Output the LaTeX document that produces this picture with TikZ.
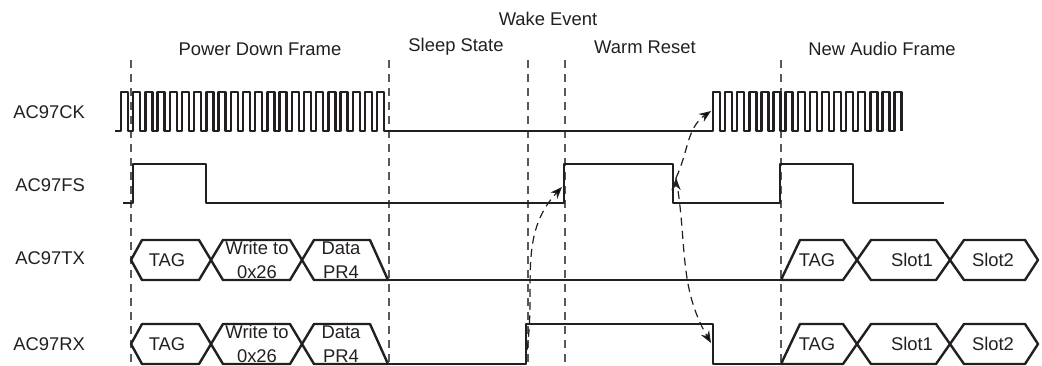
\documentclass[tikz,border=0pt]{standalone}
\usepackage{fontspec}
\setmainfont{Liberation Sans}
\usetikzlibrary{arrows.meta}
\definecolor{ink}{RGB}{35,31,32}
\definecolor{rule}{RGB}{88,89,91}

\begin{document}
\begin{tikzpicture}[x=0.75pt,y=-0.75pt,>={Stealth[length=9pt,width=7pt]},font=\fontsize{13.8}{16}\selectfont,
 sig/.style={draw=ink,line width=1.8pt,line join=round},
 divider/.style={draw=rule,line width=0.9pt,dash pattern=on 6pt off 4.5pt},
 wake/.style={->,draw=ink,line width=0.9pt,dash pattern=on 6pt off 4pt},
 txt/.style={text=ink,inner sep=0pt},
 two/.style={txt,align=center,font=\fontsize{13.8}{18}\selectfont}]
\useasboundingbox (0,0) rectangle (1042,365);
\foreach \x in {131,389,528,565,781} \draw[divider] (\x,60) -- (\x,365);
\node[txt] (wake) at (548,19) {Wake Event};
\node[txt] (pdf) at (260,49) {Power Down Frame}; \node[txt] (sleep) at (456,47) {Sleep State};
\node[txt] (warm) at (645,47) {Warm Reset}; \node[txt] (naf) at (882,49) {New Audio Frame};
\node[txt,anchor=west] (ck) at (13,112) {AC97CK}; \node[txt,anchor=west] (fs) at (15,185) {AC97FS};
\node[txt,anchor=west] (tx) at (15,258) {AC97TX}; \node[txt,anchor=west] (rx) at (13,344) {AC97RX};
\draw[sig] (115,131) -- (121,131) foreach \i in {1,...,22}{ -- ++(0,-39) -- ++(7,0) -- ++(0,39) -- ++(5.2,0)} -- (713,131)
 foreach \i in {1,...,15}{ -- ++(0,-39) -- ++(7,0) -- ++(0,39) -- ++(5.1,0)} -- ++(0,-39) -- ++(7,0) -- ++(0,39);
\draw[sig] (123,203) -| (133,164) -| (206,203) -| (564,164) -| (673,203) -| (780,164) -| (853,203) -- (944,203);
\foreach \c/\r in {260/tx,344/rx}{
 \draw[sig] (388,{\c+20}) -- (370,{\c-20}) -- (314,{\c-20}) -- (290,{\c+20}) -- (223,{\c+20}) -- (199,{\c-20}) -- (142,{\c-20}) -- (131,\c)
  -- (142,{\c+20}) -- (199,{\c+20}) -- (223,{\c-20}) -- (290,{\c-20}) -- (314,{\c+20}) -- cycle;
 \draw[sig] (781,{\c+20}) -- (800,{\c-20}) -- (843,{\c-20}) -- (871,{\c+20}) -- (936,{\c+20}) -- (964,{\c-20}) -- (1025,{\c-20}) -- (1038,\c)
  -- (1025,{\c+20}) -- (964,{\c+20}) -- (936,{\c-20}) -- (871,{\c-20}) -- (843,{\c+20}) -- cycle;
 \node[txt] (\r tag) at (167,\c) {TAG}; \node[two] (\r wr) at (257,\c) {Write to\\0x26}; \node[two] (\r data) at (341,\c) {Data\\PR4};
 \node[txt] (\r tagb) at (817,\c) {TAG}; \node[txt] (\r slota) at (912,\c) {Slot1}; \node[txt] (\r slotb) at (993,\c) {Slot2};
}
\draw[sig] (388,280) -- (781,280);
\draw[sig] (388,364) -| (526,324) -| (713,364) -- (781,364);
\coordinate (rxrise) at (527,350); \coordinate (fsrise) at (562,187); \coordinate (fsfall) at (676,178);
\coordinate (ckrise) at (711,111); \coordinate (rxfall) at (711,343);
\path[wake] (rxrise) edge[out=82,in=227] (fsrise) (fsfall) edge[out=65,in=215] (ckrise) edge[out=-80,in=120] (rxfall);
\end{tikzpicture}
\end{document}
